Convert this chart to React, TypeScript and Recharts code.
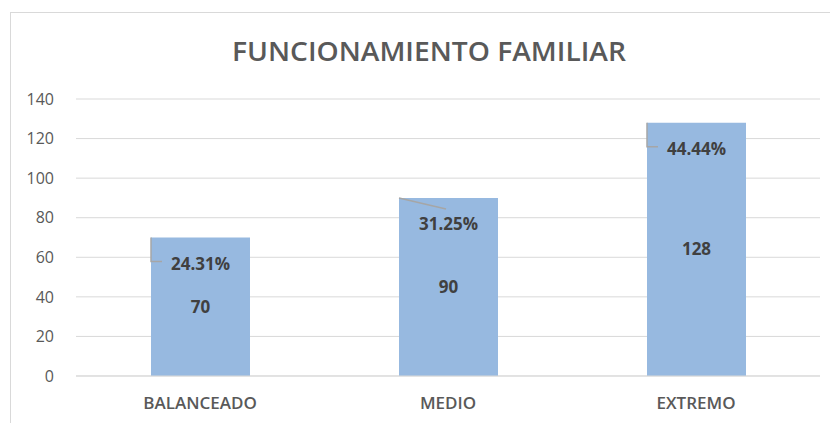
import { Bar, BarChart, CartesianGrid, LabelList, XAxis, YAxis } from "recharts"

const categories = ["BALANCEADO", "MEDIO", "EXTREMO"]
const counts = [70, 90, 128]
const percents = ["24.31%", "31.25%", "44.44%"]
const yTicks = [0, 20, 40, 60, 80, 100, 120, 140]

const data = categories.map((name, i) => ({ name, count: counts[i], pct: percents[i] }))

const font = "'Open Sans', 'Noto Sans', sans-serif"

function PctLabel(props: any) {
  const { x, y, width, value, index } = props
  const cx = x + width / 2
  const line =
    index === 1
      ? <line x1={x} y1={y} x2={x + 47} y2={y + 11} stroke="#a6a6a6" strokeWidth={1.5} />
      : <polyline points={`${x},${y} ${x},${y + 24} ${x + 11},${y + 24}`} fill="none" stroke="#a6a6a6" strokeWidth={1.5} />
  return (
    <g>
      {line}
      <text x={cx} y={y + 26} textAnchor="middle" dominantBaseline="central" fontFamily={font} fontSize={17} fontWeight="bold" fill="#404040">
        {value}
      </text>
    </g>
  )
}

export default function App() {
  return (
    <div style={{ position: "fixed", left: 0, top: 0, width: 830, height: 423, background: "#fff" }}>
      <div style={{ position: "absolute", left: 10, top: 12, width: 830, height: 420, borderLeft: "1px solid #d9d9d9", borderTop: "1px solid #d9d9d9" }} />
      <svg style={{ position: "absolute", left: 0, top: 0 }} width={830} height={80}>
        <text x={429} y={61} textAnchor="middle" fontFamily={font} fontSize={27} fontWeight="600" fill="#595959" textLength={394} lengthAdjust="spacingAndGlyphs">
          FUNCIONAMIENTO FAMILIAR
        </text>
      </svg>
      <div style={{ position: "absolute", left: 0, top: 0 }}>
        <BarChart width={830} height={423} data={data} margin={{ top: 99, right: 10, bottom: 17, left: 0 }} barCategoryGap="30%">
          <CartesianGrid vertical={false} stroke="#d9d9d9" />
          <XAxis
            dataKey="name"
            height={30}
            tickLine={false}
            axisLine={{ stroke: "#d9d9d9" }}
            tick={{ fontFamily: font, fontSize: 17, fontWeight: 600, fill: "#595959" }}
            tickMargin={15}
          />
          <YAxis
            width={76}
            domain={[0, 140]}
            ticks={yTicks}
            tickLine={false}
            axisLine={false}
            tick={{ fontFamily: font, fontSize: 16, fill: "#595959" }}
            tickMargin={16}
          />
          <Bar dataKey="count" fill="#97b9e0" isAnimationActive={false} barSize={99}>
            <LabelList dataKey="count" position="center" style={{ fontFamily: font, fontSize: 17, fontWeight: "bold", fill: "#404040" }} />
            <LabelList dataKey="pct" content={PctLabel} />
          </Bar>
        </BarChart>
      </div>
    </div>
  )
}
